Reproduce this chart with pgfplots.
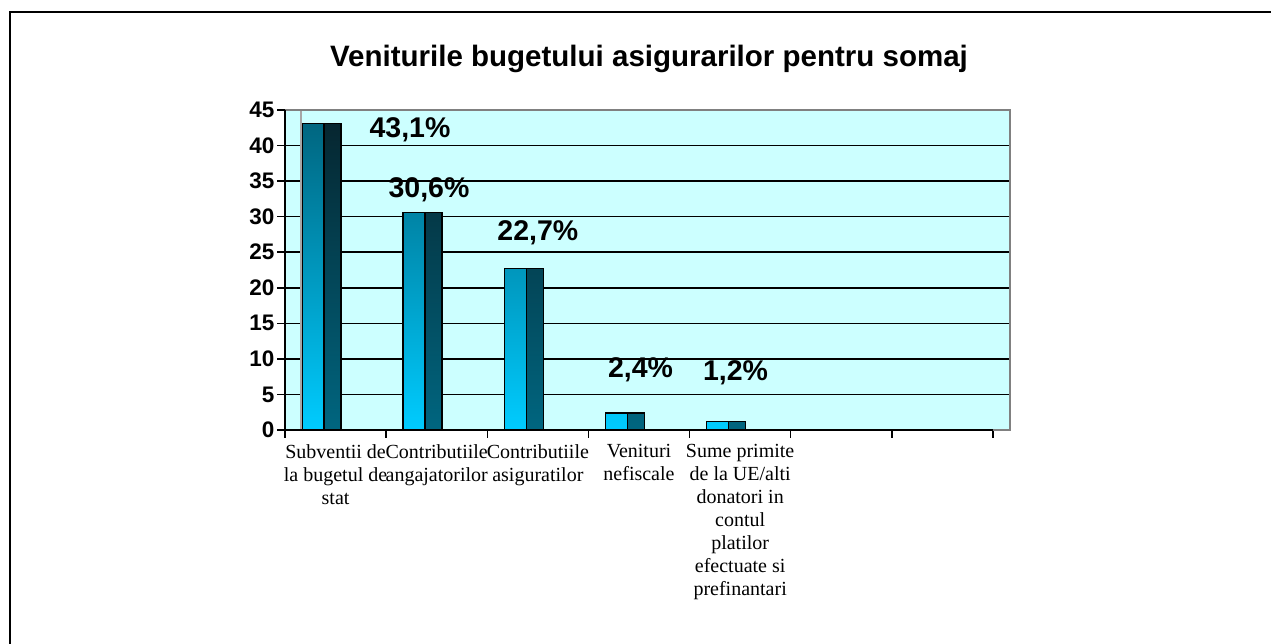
\documentclass[border=0pt]{standalone}
\usepackage{pgfplots}
\pgfplotsset{compat=1.18}
\usepackage{fontspec}
\setmainfont{Liberation Serif}
\newfontfamily\arial{Liberation Sans}
\definecolor{bgcyan}{HTML}{CCFFFF}
\definecolor{barlo}{HTML}{00CCFF}
\definecolor{barmid}{HTML}{006680}
\definecolor{bardark}{HTML}{062630}
\begin{document}
\begin{tikzpicture}
\useasboundingbox (0,0) rectangle (1271pt,644pt);
\fill[white] (0,0) rectangle (1271pt,644pt);
\draw[line width=2.2pt] (10pt,-10pt) -- (10pt,632pt) -- (1290pt,632pt);
\node[font=\arial\bfseries\fontsize{29.5}{31}\selectfont, anchor=base] at (649pt,577pt) {Veniturile bugetului asigurarilor pentru somaj};
\begin{axis}[
  at={(285pt,214pt)}, anchor=south west,
  scale only axis, width=725pt, height=320pt,
  xmin=-0.5, xmax=6.668, ymin=0, ymax=45,
  axis line style={draw=none},
  axis background/.style={fill=bgcyan},
  clip=false,
  tick align=outside, xtick pos=bottom, ytick pos=left,
  major tick length=8pt,
  every tick/.style={black, line width=1.5pt},
  xtick={-0.5,0.5,1.5,2.5,3.5,4.5,5.5,6.5},
  xticklabels={,,,,,,,,},
  ytick={0,5,...,45},
  ymajorgrids,
  major grid style={black, line width=1.6pt},
  yticklabel style={font=\arial\bfseries\fontsize{22.5}{23}\selectfont, xshift=1pt},
  /pgf/number format/assume math mode=true,
  extra x ticks={0,1,2,3,4},
  extra x tick labels={{Subventii de\\la bugetul de\\stat},{Contributiile\\angajatorilor},{Contributiile\\asiguratilor},{Venituri\\nefiscale},{Sume primite\\de la UE/alti\\donatori in\\contul\\platilor\\efectuate si\\prefinantari}},
  extra x tick style={major tick length=0pt, grid=none,
     xticklabel style={align=center, font=\fontsize{20}{23}\selectfont, text depth=0pt, yshift=-11pt}},
]
\addplot[ybar, bar width=0.2175, bar shift=0pt, draw=black, line width=1.5pt,
  top color=barmid, bottom color=barlo]
  coordinates {(-0.223,43.1) (0.777,30.6) (1.777,22.7) (2.777,2.4) (3.777,1.2)};
\addplot[ybar, bar width=0.168, bar shift=0pt, draw=black, line width=1.5pt,
  top color=bardark, bottom color=barmid]
  coordinates {(-0.030,43.1) (0.970,30.6) (1.970,22.7) (2.970,2.4) (3.970,1.2)};
\draw[gray!70, line width=1.2pt] (axis cs:-0.342,0) -- (axis cs:-0.342,45);
\draw[gray, line width=2pt] (axis cs:-0.5,45) -- (axis cs:6.668,45) -- (axis cs:6.668,0) -- (axis cs:6.5,0);
\draw[black, line width=1.5pt] (axis cs:-0.5,45) -- (axis cs:-0.5,0) -- (axis cs:6.5,0);
\begin{scope}[every node/.style={font=\arial\bfseries\fontsize{28.5}{29}\selectfont, anchor=center}]
\node at (axis cs:0.736,42.2) {43,1\%};
\node at (axis cs:0.924,33.75) {30,6\%};
\node at (axis cs:2.0,27.8) {22,7\%};
\node at (axis cs:3.015,8.44) {2,4\%};
\node at (axis cs:3.954,8.0) {1,2\%};
\end{scope}
\end{axis}
\end{tikzpicture}
\end{document}
